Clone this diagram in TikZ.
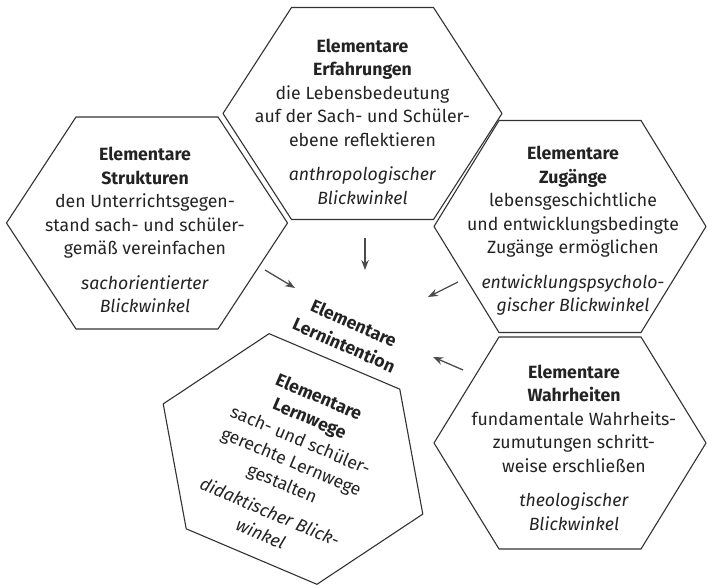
\documentclass[tikz,border=0pt]{standalone}
\usepackage{fontspec}
\setmainfont{Fira Sans}
\usetikzlibrary{arrows.meta,positioning}
\definecolor{hxink}{RGB}{35,35,35}
\definecolor{hxline}{RGB}{50,50,50}
\definecolor{hxarrow}{RGB}{75,75,75}
\tikzstyle{hexline} = [draw=hxline, line width=1.1pt, line join=round]
\tikzstyle{hextext} = [align=center, text=hxink, font=\fontsize{17.7}{23.5}\selectfont]
\tikzstyle{arrow} = [line width=1.3pt,->,>={Stealth[length=10pt,width=7.5pt]},color=hxarrow]
\tikzset{pics/hexframe/.style={code={\draw[hexline] (-#1,0) -- (-71,106) -- (71,106) -- (#1,0) -- (71,-106) -- (-71,-106) -- cycle;}}}

\begin{document}
\begin{tikzpicture}[x=1pt,y=1pt]
\useasboundingbox (0,0) rectangle (708,585);

% Hexagon frames
\pic at (362.5,471.5) {hexframe=139.5};
\pic at (147,362) {hexframe=140.5};
\pic at (570,358.5) {hexframe=136};
\pic at (570,142) {hexframe=136};
\pic[rotate=-23] at (293,126) {hexframe=141};

% Texts of the five hexagons
\node[hextext] (erf) at (362.5,463.5) {\textbf{Elementare}\\\textbf{Erfahrungen}\\die Lebensbedeutung\\auf der Sach- und Schüler-\\ebene reflektieren\\[11pt]\textit{anthropologischer}\\\textit{Blickwinkel}};
\node[hextext] (struk) at (145,355) {\textbf{Elementare}\\\textbf{Strukturen}\\den Unterrichtsgegen-\\stand sach- und schüler-\\gemäß vereinfachen\\[11pt]\textit{sachorientierter}\\\textit{Blickwinkel}};
\node[hextext] (zug) at (573,354) {\textbf{Elementare}\\\textbf{Zugänge}\\lebensgeschichtliche\\und entwicklungsbedingte\\Zugänge ermöglichen\\[11pt]\textit{entwicklungspsycholo-}\\\textit{gischer Blickwinkel}};
\node[hextext] (wahr) at (574,137.5) {\textbf{Elementare}\\\textbf{Wahrheiten}\\fundamentale Wahrheits-\\zumutungen schritt-\\weise erschließen\\[11pt]\textit{theologischer}\\\textit{Blickwinkel}};
\node[hextext, rotate=-23] (weg) at (290,120) {\textbf{Elementare}\\\textbf{Lernwege}\\sach- und schüler-\\gerechte Lernwege\\gestalten\\[8pt]\textit{didaktischer Blick-}\\\textit{winkel}};

% Centre label
\node[hextext, rotate=-24, font=\bfseries\fontsize{17.7}{24}\selectfont] (intent) at (349,251) {Elementare\\Lernintention};

% Arrows
\coordinate (erfA) at (365,347);
\coordinate (erfB) at (365,315);
\coordinate (strukA) at (265,315);
\coordinate (strukB) at (295,297);
\coordinate (zugA) at (458,303);
\coordinate (zugB) at (428,288);
\coordinate (wahrA) at (463,215);
\coordinate (wahrB) at (433,228);
\draw[arrow] (erfA) -- (erfB);
\draw[arrow] (strukA) -- (strukB);
\draw[arrow] (zugA) -- (zugB);
\draw[arrow] (wahrA) -- (wahrB);
\end{tikzpicture}
\end{document}
